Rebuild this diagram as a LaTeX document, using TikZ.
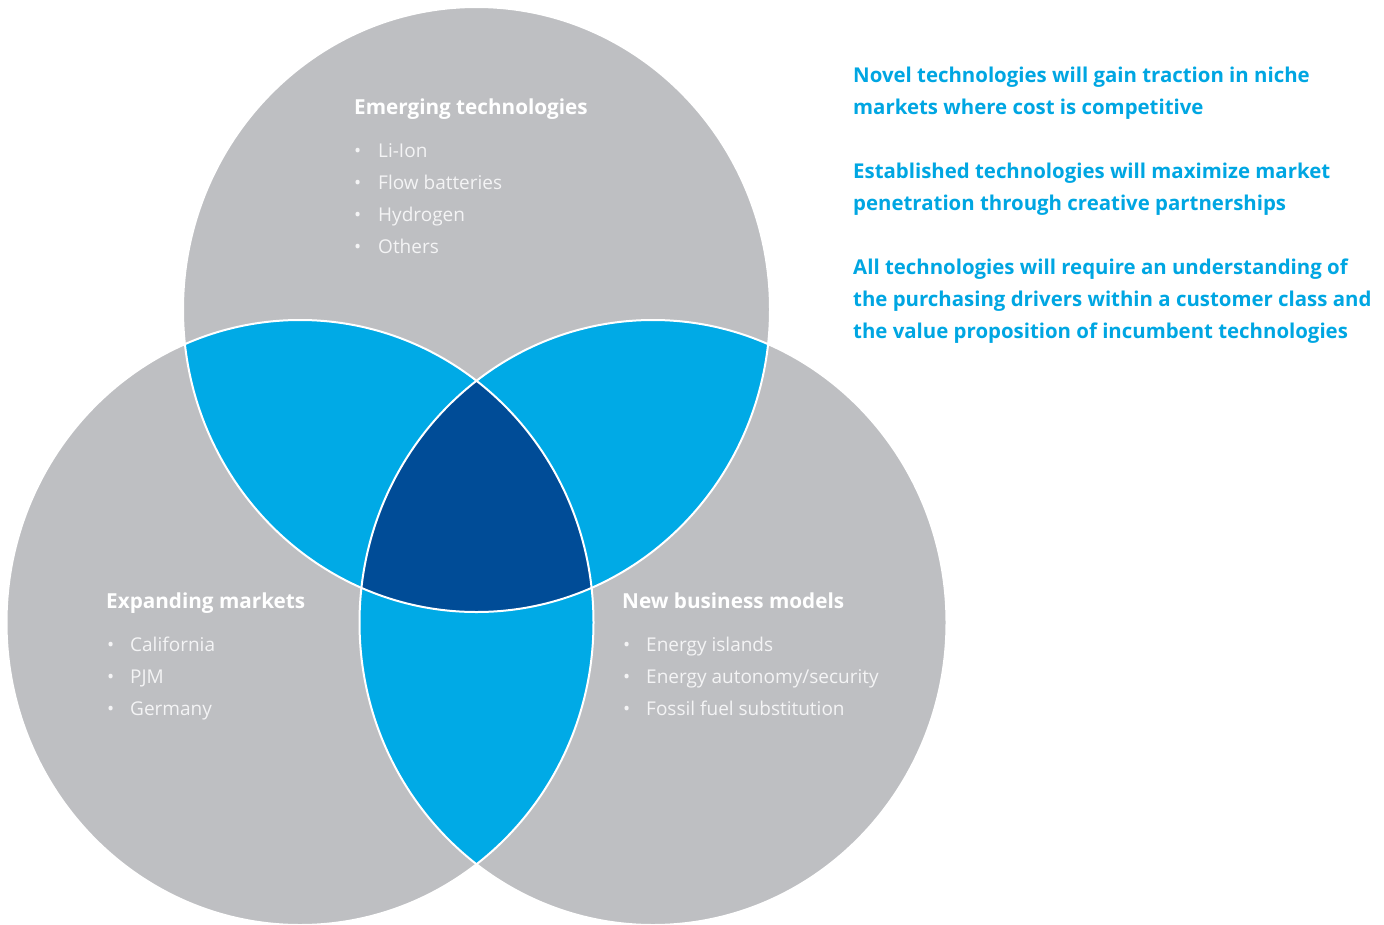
\documentclass[tikz,border=0pt]{standalone}
\usepackage{fontspec}
\setmainfont{Open Sans}
\definecolor{vgray}{RGB}{190,191,194}
\definecolor{vblue}{RGB}{0,170,230}
\definecolor{vdark}{RGB}{0,76,151}
\definecolor{vtext}{RGB}{0,166,226}
\definecolor{vitem}{RGB}{244,244,245}
\begin{document}
\begin{tikzpicture}[x=1pt,y=-1pt,
  head/.style={font=\bfseries\fontsize{20.7}{25}\selectfont, text=white, anchor=mid west, inner sep=0pt},
  item/.style={font=\fontsize{19}{23}\selectfont, text=vitem, anchor=mid west, inner sep=0pt},
  note/.style={font=\bfseries\fontsize{20.4}{25}\selectfont, text=vtext, anchor=mid west, inner sep=0pt},
  ring/.style={draw=white, line width=2pt}]
\useasboundingbox (0,0) rectangle (1384,924);
\coordinate (cT) at (476.5,309.5);
\coordinate (cL) at (300,622.5);
\coordinate (cR) at (653,622.5);
% gray circles
\fill[vgray] (cT) ellipse [x radius=293.5pt, y radius=302.5pt];
\fill[vgray] (cL) ellipse [x radius=293.5pt, y radius=302.5pt];
\fill[vgray] (cR) ellipse [x radius=293.5pt, y radius=302.5pt];
% pairwise overlaps
\begin{scope}
  \clip (cT) ellipse [x radius=293.5pt, y radius=302.5pt];
  \fill[vblue] (cL) ellipse [x radius=293.5pt, y radius=302.5pt];
  \fill[vblue] (cR) ellipse [x radius=293.5pt, y radius=302.5pt];
\end{scope}
\begin{scope}
  \clip (cL) ellipse [x radius=293.5pt, y radius=302.5pt];
  \fill[vblue] (cR) ellipse [x radius=293.5pt, y radius=302.5pt];
\end{scope}
% triple overlap
\begin{scope}
  \clip (cT) ellipse [x radius=293.5pt, y radius=302.5pt];
  \clip (cL) ellipse [x radius=293.5pt, y radius=302.5pt];
  \fill[vdark] (cR) ellipse [x radius=293.5pt, y radius=302.5pt];
\end{scope}
% white outlines
\path[ring] (cT) ellipse [x radius=293.5pt, y radius=302.5pt];
\path[ring] (cL) ellipse [x radius=293.5pt, y radius=302.5pt];
\path[ring] (cR) ellipse [x radius=293.5pt, y radius=302.5pt];
% top circle text
\node[head] (h1) at (354,112) {Emerging technologies};
\node[item] (t1) at (354,155) {\makebox[24pt][l]{•}Li-Ion};
\node[item] (t2) at (354,187) {\makebox[24pt][l]{•}Flow batteries};
\node[item] (t3) at (354,219) {\makebox[24pt][l]{•}Hydrogen};
\node[item] (t4) at (354,251) {\makebox[24pt][l]{•}Others};
% left circle text
\node[head] (h2) at (106,606) {Expanding markets};
\node[item] (l1) at (107,649) {\makebox[23pt][l]{•}California};
\node[item] (l2) at (107,681) {\makebox[23pt][l]{•}PJM};
\node[item] (l3) at (107,713) {\makebox[23pt][l]{•}Germany};
% right circle text
\node[head] (h3) at (622,606) {New business models};
\node[item] (r1) at (623,649) {\makebox[23pt][l]{•}Energy islands};
\node[item] (r2) at (623,681) {\makebox[23pt][l]{•}Energy autonomy/security};
\node[item] (r3) at (623,713) {\makebox[23pt][l]{•}Fossil fuel substitution};
% notes
\node[note] (n1a) at (853,80) {Novel technologies will gain traction in niche};
\node[note] (n1b) at (853,112) {markets where cost is competitive};
\node[note] (n2a) at (853,176) {Established technologies will maximize market};
\node[note] (n2b) at (853,208) {penetration through creative partnerships};
\node[note] (n3a) at (853,272) {All technologies will require an understanding of};
\node[note] (n3b) at (853,304) {the purchasing drivers within a customer class and};
\node[note] (n3c) at (853,336) {the value proposition of incumbent technologies};
\end{tikzpicture}
\end{document}
